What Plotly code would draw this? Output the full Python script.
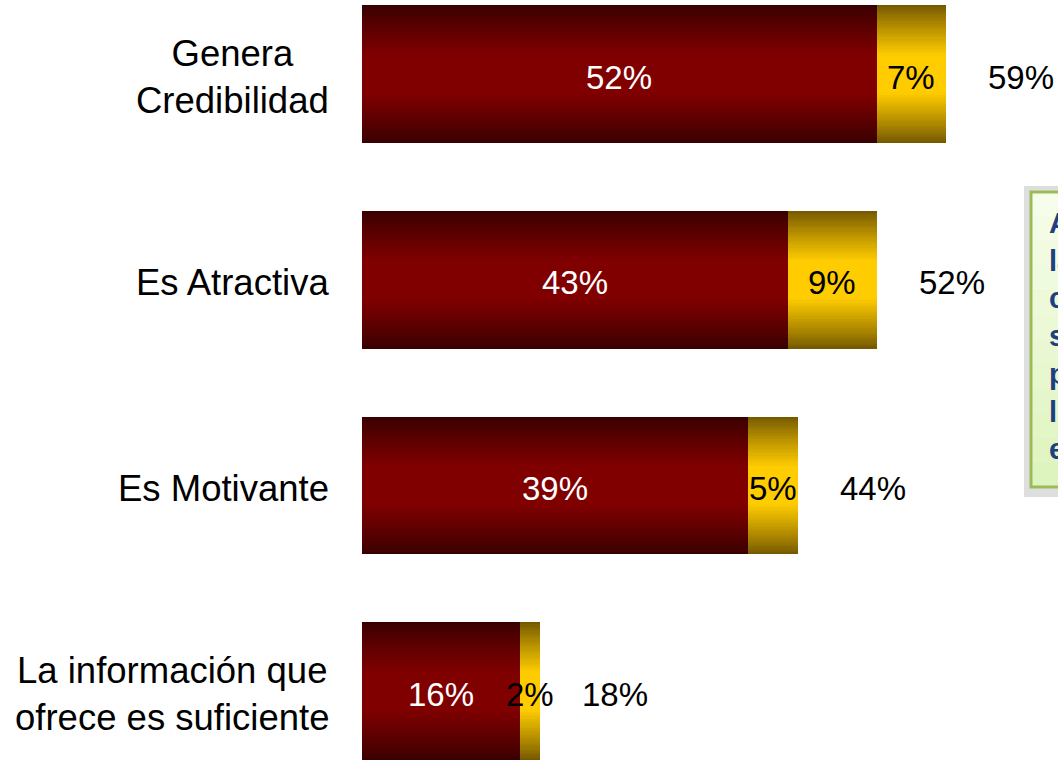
import plotly.graph_objects as go

categories = ["Genera<br>Credibilidad", "Es Atractiva", "Es Motivante",
              "La información que<br>ofrece es suficiente"]
red_values = [52, 43, 39, 16]
gold_values = [7, 9, 5, 2]
total_values = [59, 52, 44, 18]
red_labels = ["52%", "43%", "39%", "16%"]
gold_labels = ["7%", "9%", "5%", "2%"]
total_labels = ["59%", "52%", "44%", "18%"]
box_lines = ["Aproximadamente", "la mitad de los", "consumidores", "señala que la",
             "publicidad les", "lleva a confiar", "en la marca"]

FONT = "Liberation Sans, Arial, sans-serif"
BAR_W = 0.67
N = 30
W, H = 1058, 760
ML, MR = 362, 3
PW = W - ML - MR
YS = -3


def mix(c1, c2, t):
    return "rgb(%d,%d,%d)" % tuple(round(a + (b - a) * t) for a, b in zip(c1, c2))


def px_x(p):
    return (p - ML) / PW


def px_y(p):
    return 1 - p / H


red_dark, red_bright = (58, 0, 0), (128, 0, 0)
gold_dark, gold_bright = (118, 90, 0), (255, 204, 0)

fig = go.Figure()
for k in range(N):
    f = k / (N - 1)
    t = min(1.0, f * 1.35) ** 0.9
    w = BAR_W * (1 - k / N)
    fig.add_trace(go.Bar(y=categories, x=red_values, base=[0] * 4, orientation="h",
                         width=w, marker=dict(color=mix(red_dark, red_bright, t), line=dict(width=0)),
                         hoverinfo="skip", showlegend=False))
    fig.add_trace(go.Bar(y=categories, x=gold_values, base=red_values, orientation="h",
                         width=w, marker=dict(color=mix(gold_dark, gold_bright, t), line=dict(width=0)),
                         hoverinfo="skip", showlegend=False))

annotations = []
for cat, r, g, tot, rl, gl, tl in zip(categories, red_values, gold_values, total_values,
                                      red_labels, gold_labels, total_labels):
    annotations.append(dict(x=r / 2, y=cat, xref="x", yref="y", text=rl, showarrow=False,
                            yshift=YS, font=dict(family=FONT, size=33, color="white")))
    annotations.append(dict(x=r + g / 2, y=cat, xref="x", yref="y", text=gl, showarrow=False,
                            yshift=YS, font=dict(family=FONT, size=33, color="black")))
    annotations.append(dict(x=tot, y=cat, xref="x", yref="y", text=tl, showarrow=False,
                            xanchor="left", xshift=40, yshift=YS,
                            font=dict(family=FONT, size=33, color="black")))
    annotations.append(dict(x=0, y=cat, xref="x", yref="y", text=cat, showarrow=False,
                            xanchor="right", align="center", xshift=-31, yshift=YS,
                            font=dict(family=FONT, size=36.5, color="black")))

# text box (partially outside the page)
shapes = [
    dict(type="rect", xref="paper", yref="paper", x0=px_x(1024), x1=px_x(1200),
         y0=px_y(497), y1=px_y(186), fillcolor="rgba(160,160,160,0.35)", line=dict(width=0),
         layer="above"),
]
top_c, bot_c = (246, 253, 234), (222, 244, 190)
NB = 12
top_px, bot_px = 192, 487
for i in range(NB):
    a = top_px + (bot_px - top_px) * i / NB
    b = top_px + (bot_px - top_px) * (i + 1) / NB
    shapes.append(dict(type="rect", xref="paper", yref="paper", x0=px_x(1031), x1=px_x(1200),
                       y0=px_y(b + 0.5), y1=px_y(a), fillcolor=mix(top_c, bot_c, i / (NB - 1)),
                       line=dict(width=0), layer="above"))
shapes.append(dict(type="rect", xref="paper", yref="paper", x0=px_x(1031), x1=px_x(1200),
                   y0=px_y(bot_px), y1=px_y(top_px), fillcolor="rgba(0,0,0,0)",
                   line=dict(color="#9bbb59", width=3), layer="above"))
annotations.append(dict(xref="paper", yref="paper", x=px_x(1047), y=px_y(336),
                        xanchor="left", yanchor="middle", align="left", showarrow=False,
                        text="<b>" + "<br>".join(box_lines) + "</b>",
                        font=dict(family=FONT, size=29, color="#1f3f7f")))

fig.update_layout(
    width=W, height=H, margin=dict(l=ML, r=MR, t=0, b=0),
    paper_bgcolor="white", plot_bgcolor="white",
    barmode="overlay", bargap=0,
    xaxis=dict(range=[0, 70], visible=False, fixedrange=True),
    yaxis=dict(type="category", categoryorder="array", categoryarray=categories,
               range=[3.335, -0.36], visible=False, fixedrange=True),
    shapes=shapes, annotations=annotations,
)

fig.write_html("out.html", config={"displayModeBar": False},
               post_script="document.body.style.margin='0';document.body.style.overflow='hidden';")
